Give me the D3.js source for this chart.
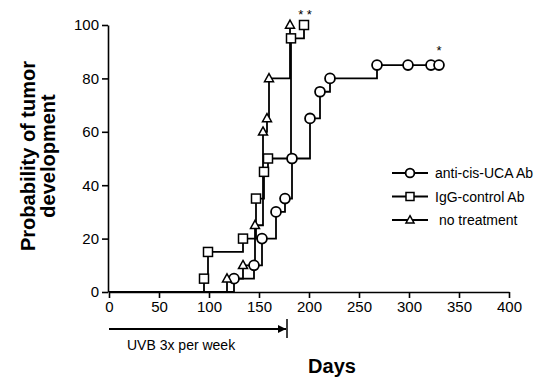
<!DOCTYPE html>
<html>
<head>
<script src="https://d3js.org/d3.v7.min.js"></script>
<style>
  body { margin: 0; background: #fff; }
  svg text { font-family: "Liberation Sans", Arial, sans-serif; fill: #000; }
  .axis path, .axis line { stroke: #000; stroke-width: 1.6; }
  .axis text { font-size: 15px; }
</style>
</head>
<body>
<svg id="chart" width="558" height="377"></svg>
<script>
// anti-cis-UCA Ab (circles)
var antiDays = [125, 145, 153, 167, 176, 183, 201, 211, 221, 268, 299, 322, 330];
var antiPct  = [5, 10, 20, 30, 35, 50, 65, 75, 80, 85, 85, 85, 85];
// IgG-control Ab (squares)
var iggDays = [95, 99, 134, 147, 155, 159, 182, 195];
var iggPct  = [5, 15, 20, 35, 45, 50, 95, 100];
// no treatment (triangles)
var noneDays = [118, 134, 146, 154, 158, 160, 181];
var nonePct  = [5, 10, 25, 60, 65, 80, 100];

var xTicks = [0, 50, 100, 150, 200, 250, 300, 350, 400];
var yTicks = [0, 20, 40, 60, 80, 100];
var legendLabels = ["anti-cis-UCA Ab", "IgG-control Ab", " no treatment"];

var svg = d3.select("#chart");
var x = d3.scaleLinear().domain([0, 400]).range([109, 509]);
var y = d3.scaleLinear().domain([0, 100]).range([292, 25]);

svg.append("g").attr("class", "axis").attr("transform", "translate(0,292)")
  .call(d3.axisBottom(x).tickValues(xTicks).tickSize(6).tickSizeOuter(0).tickPadding(3));
svg.append("g").attr("class", "axis").attr("transform", "translate(108,0)")
  .call(d3.axisLeft(y).tickValues(yTicks).tickSize(6).tickSizeOuter(0).tickPadding(3));

var series = [
  {days: antiDays, pct: antiPct, shape: "circle"},
  {days: iggDays, pct: iggPct, shape: "square"},
  {days: noneDays, pct: nonePct, shape: "triangle"}
];

var line = d3.line().x(function(d){return x(d[0]);}).y(function(d){return y(d[1]);})
  .curve(d3.curveStepAfter);

function marker(g, shape, cx, cy, s) {
  if (shape == "circle") {
    g.append("circle").attr("cx", cx).attr("cy", cy).attr("r", s * 0.55)
      .attr("fill", "#fff").attr("stroke", "#000").attr("stroke-width", 1.8);
  } else if (shape == "square") {
    g.append("rect").attr("x", cx - s/2).attr("y", cy - s/2).attr("width", s).attr("height", s)
      .attr("fill", "#fff").attr("stroke", "#000").attr("stroke-width", 1.5);
  } else {
    var h = s * 0.9;
    g.append("path").attr("d", "M" + cx + "," + (cy - h*0.6) + "L" + (cx + s/2) + "," + (cy + h*0.4) +
        "L" + (cx - s/2) + "," + (cy + h*0.4) + "Z")
      .attr("fill", "#fff").attr("stroke", "#000").attr("stroke-width", 1.5);
  }
}

series.forEach(function(s) {
  var pts = [[0, 0]].concat(s.days.map(function(d, i){return [d, s.pct[i]];}));
  svg.append("path").datum(pts).attr("d", line)
    .attr("fill", "none").attr("stroke", "#000").attr("stroke-width", 1.8);
});
series.forEach(function(s) {
  var g = svg.append("g");
  s.days.forEach(function(d, i) { marker(g, s.shape, x(d), y(s.pct[i]), 9); });
});

// significance marks
svg.append("text").attr("x", x(196)).attr("y", 19).attr("text-anchor", "middle")
  .style("font-size", "13px").text("* *");
svg.append("text").attr("x", x(330)).attr("y", 55).attr("text-anchor", "middle")
  .style("font-size", "13px").text("*");

// legend
legendLabels.forEach(function(t, i) {
  var ly = 173 + i * 23.5;
  svg.append("line").attr("x1", 392).attr("x2", 428).attr("y1", ly).attr("y2", ly)
    .attr("stroke", "#000").attr("stroke-width", 1.8);
  marker(svg, series[i].shape, 410, ly, 8);
  svg.append("text").attr("x", 435).attr("y", ly + 5).style("font-size", "14px")
    .attr("xml:space", "preserve").style("white-space", "pre").text(t);
});

// UVB arrow
svg.append("defs").append("marker").attr("id", "arr").attr("viewBox", "0 0 10 10")
  .attr("refX", 10).attr("refY", 5).attr("markerWidth", 6).attr("markerHeight", 4)
  .attr("markerUnits", "strokeWidth").attr("orient", "auto")
  .append("path").attr("d", "M0,0L10,5L0,10Z").attr("fill", "#000");
svg.append("line").attr("x1", x(0)).attr("x2", x(177)).attr("y1", 329).attr("y2", 329)
  .attr("stroke", "#000").attr("stroke-width", 2).attr("marker-end", "url(#arr)");
svg.append("line").attr("x1", x(178)).attr("x2", x(178)).attr("y1", 319).attr("y2", 338)
  .attr("stroke", "#000").attr("stroke-width", 1.5);
svg.append("text").attr("x", 127).attr("y", 350).style("font-size", "14px").text("UVB 3x per week");

// axis titles
svg.append("text").attr("x", 332).attr("y", 373).attr("text-anchor", "middle")
  .style("font-size", "20px").style("font-weight", "bold").text("Days");
var yt = svg.append("text").attr("transform", "translate(0,156) rotate(-90)")
  .attr("text-anchor", "middle").style("font-size", "20px").style("font-weight", "bold");
yt.append("tspan").attr("x", 0).attr("y", 35).text("Probability of tumor");
yt.append("tspan").attr("x", 0).attr("y", 55).text("development");
</script>
</body>
</html>
